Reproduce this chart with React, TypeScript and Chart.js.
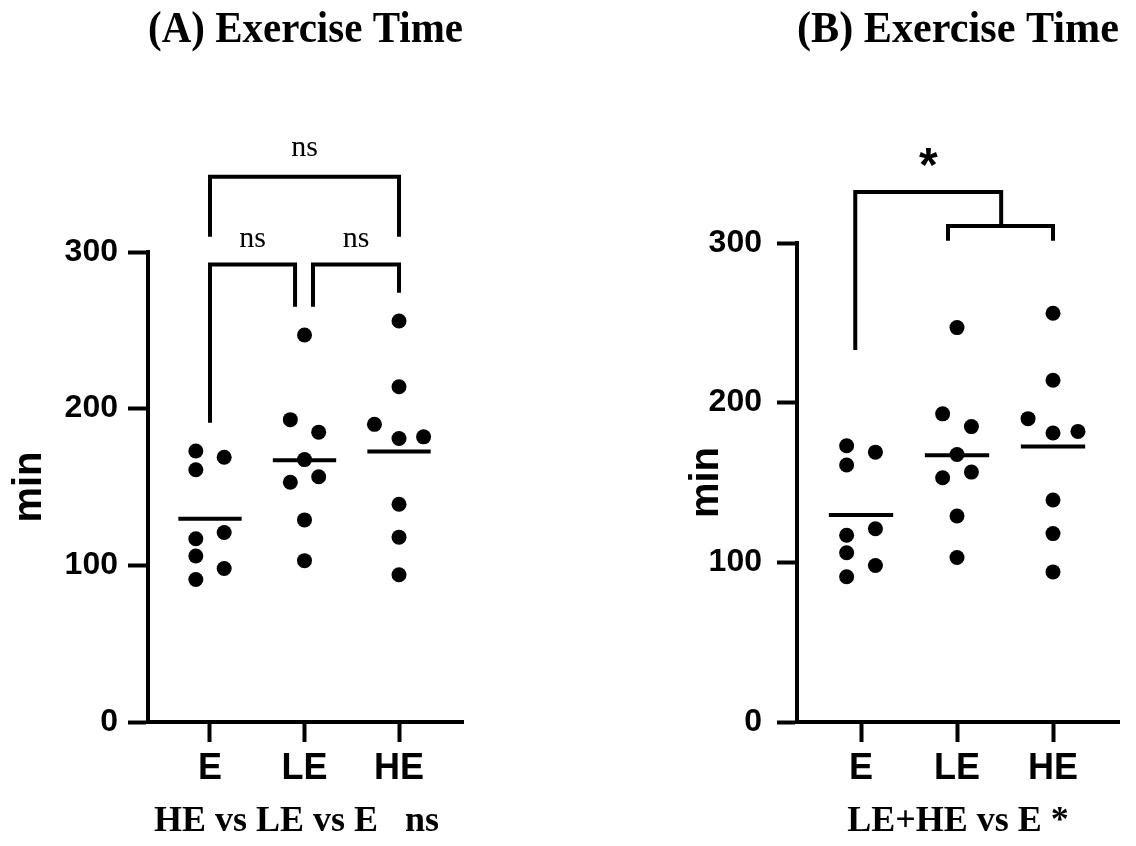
import React, { useEffect, useRef } from 'react';
import { Chart, registerables } from 'chart.js';

Chart.register(...registerables);

// ---- data ----
const groups = ['E', 'LE', 'HE'];
const eValues = [173, 169, 161, 121, 117, 106, 98, 91];
const eJitter = [-0.15, 0.15, -0.15, 0.15, -0.15, -0.15, 0.15, -0.15];
const leValues = [247, 193, 185, 167.5, 156.5, 153, 129, 103];
const leJitter = [0, -0.15, 0.15, 0, 0.15, -0.15, 0, 0];
const heValues = [256, 214, 190, 181, 182, 139, 118, 94];
const heJitter = [0, 0, -0.26, 0, 0.26, 0, 0, 0];
const groupMeans = [129.7, 167.1, 172.6];
const meanHalfWidth = 0.335;
const yTicks = [0, 100, 200, 300];

// significance brackets (x in group units, y in minutes)
const bracketsA = [
  { x: [1, 1, 3, 3], y: [309.7, 348, 348, 309.7] },
  { x: [1, 1, 1.9, 1.9], y: [191, 292, 292, 265] },
  { x: [2.09, 2.09, 3, 3], y: [265, 292, 292, 274] },
];
const labelsA = [
  { x: 2, y: 366, text: 'ns' },
  { x: 1.45, y: 308.5, text: 'ns' },
  { x: 2.545, y: 308.5, text: 'ns' },
];
const bracketsB = [
  { x: [0.94, 0.94, 2.46, 2.46], y: [233, 331.9, 331.9, 310.6] },
  { x: [1.906, 1.906, 3, 3], y: [301.4, 310.6, 310.6, 301.4] },
];
const labelsB = [{ x: 1.7, y: 347, text: '*' }];

const SANS = "'Liberation Sans', Arial, Helvetica, sans-serif";
const NARROW = "'Liberation Sans Narrow', 'Arial Narrow', 'Liberation Sans', Arial, sans-serif";
const SERIF = "'Liberation Serif', 'Times New Roman', Times, serif";

const textMarks = {
  id: 'textMarks',
  afterDatasetsDraw(chart: any, _args: any, opts: any) {
    const { ctx, scales } = chart;
    const items = (opts && opts.items) || [];
    ctx.save();
    ctx.fillStyle = '#000';
    ctx.textAlign = 'center';
    ctx.textBaseline = 'middle';
    ctx.font = opts.font;
    for (const it of items) {
      ctx.fillText(it.text, scales.x.getPixelForValue(it.x), scales.y.getPixelForValue(it.y));
    }
    ctx.restore();
  },
};

type PanelProps = {
  left: number;
  width: number;
  title: string;
  xTitle: string;
  yAxisWidth: number;
  yTickPad: number;
  yTitlePad: number;
  padRight: number;
  titleBottomPad: number;
  xMin: number;
  xMax: number;
  brackets: { x: number[]; y: number[] }[];
  labels: { x: number; y: number; text: string }[];
  labelFont: string;
};

function buildDatasets(brackets: { x: number[]; y: number[] }[]) {
  const series = [eValues, leValues, heValues];
  const jitters = [eJitter, leJitter, heJitter];
  const ds: any[] = [];
  series.forEach((vals, g) => {
    ds.push({
      label: groups[g],
      data: vals.map((v, i) => ({ x: g + 1 + jitters[g][i], y: v })),
      pointRadius: 7.5,
      pointHoverRadius: 7.5,
      backgroundColor: '#000',
      borderWidth: 0,
      showLine: false,
    });
  });
  groupMeans.forEach((m, g) => {
    ds.push({
      label: 'mean ' + groups[g],
      data: [
        { x: g + 1 - meanHalfWidth, y: m },
        { x: g + 1 + meanHalfWidth, y: m },
      ],
      showLine: true,
      borderColor: '#000',
      borderWidth: 4,
      pointRadius: 0,
      borderCapStyle: 'butt',
    });
  });
  brackets.forEach((b, k) => {
    ds.push({
      label: 'bracket ' + k,
      data: b.x.map((x, i) => ({ x, y: b.y[i] })),
      showLine: true,
      borderColor: '#000',
      borderWidth: 4,
      pointRadius: 0,
      borderJoinStyle: 'miter',
      borderCapStyle: 'butt',
      clip: false,
      tension: 0,
    });
  });
  return ds;
}

function Panel(p: PanelProps) {
  const ref = useRef<HTMLCanvasElement | null>(null);
  useEffect(() => {
    if (!ref.current) return;
    const chart = new Chart(ref.current, {
      type: 'scatter',
      data: { datasets: buildDatasets(p.brackets) },
      options: {
        responsive: false,
        animation: false,
        events: [],
        layout: { padding: { left: 0, right: p.padRight, top: 0, bottom: 0 } },
        plugins: {
          legend: { display: false },
          tooltip: { enabled: false },
          title: {
            display: true,
            text: p.title,
            fullSize: false,
            position: 'top',
            align: 'center',
            color: '#000',
            font: { family: SERIF, size: 44, weight: 'bold', lineHeight: 1.2 },
            padding: { top: 4, bottom: p.titleBottomPad },
          },
          textMarks: { items: p.labels, font: p.labelFont },
        } as any,
        scales: {
          x: {
            type: 'linear',
            min: p.xMin,
            max: p.xMax,
            afterBuildTicks: (s: any) => {
              s.ticks = groups.map((_, i) => ({ value: i + 1 }));
            },
            afterFit: (s: any) => {
              s.height = 124;
            },
            ticks: {
              callback: (_v: any, i: number) => groups[i],
              color: '#000',
              font: { family: NARROW, size: 36, weight: 'bold', lineHeight: 1.2 },
              padding: 5,
              autoSkip: false,
              maxRotation: 0,
            },
            grid: {
              drawOnChartArea: false,
              drawTicks: true,
              tickLength: 20,
              tickWidth: 4,
              tickColor: '#000',
            },
            border: { display: true, color: '#000', width: 4 },
            title: {
              display: true,
              text: p.xTitle,
              color: '#000',
              font: { family: SERIF, size: 36, weight: 'bold', lineHeight: 1.2 },
              padding: { top: 0, bottom: 3 },
            },
          },
          y: {
            type: 'linear',
            min: 0,
            max: 300,
            afterBuildTicks: (s: any) => {
              s.ticks = yTicks.map((v) => ({ value: v }));
            },
            afterFit: (s: any) => {
              s.width = p.yAxisWidth;
            },
            ticks: {
              color: '#000',
              font: { family: SANS, size: 32, weight: 'bold' },
              padding: p.yTickPad,
            },
            grid: {
              drawOnChartArea: false,
              drawTicks: true,
              tickLength: 20,
              tickWidth: 4,
              tickColor: '#000',
            },
            border: { display: true, color: '#000', width: 4 },
            title: {
              display: true,
              text: 'min',
              color: '#000',
              font: { family: SANS, size: 40, weight: 'bold', lineHeight: 1.2 },
              padding: { top: p.yTitlePad, bottom: 0 },
            },
          },
        },
      } as any,
      plugins: [textMarks as any],
    });
    return () => chart.destroy();
  }, []);
  return (
    <canvas
      ref={ref}
      width={p.width}
      height={846}
      style={{ position: 'absolute', left: p.left, top: 0, display: 'block' }}
    />
  );
}

export default function App() {
  return (
    <div style={{ position: 'absolute', left: 0, top: 0, width: 1136, height: 846, background: '#fff' }}>
      <Panel
        left={0}
        width={680}
        title="(A) Exercise Time"
        xTitle="HE vs LE vs E   ns  "
        yAxisWidth={148}
        yTickPad={10}
        yTitlePad={6}
        padRight={217}
        titleBottomPad={195.2}
        xMin={0.344}
        xMax={3.677}
        brackets={bracketsA}
        labels={labelsA}
        labelFont={"30px 'Liberation Serif', 'Times New Roman', serif"}
      />
      <Panel
        left={680}
        width={456}
        title="(B) Exercise Time"
        xTitle="LE+HE vs E *"
        yAxisWidth={117}
        yTickPad={15}
        yTitlePad={3}
        padRight={17}
        titleBottomPad={186.2}
        xMin={0.333}
        xMax={3.6875}
        brackets={bracketsB}
        labels={labelsB}
        labelFont={"bold 48px 'Liberation Sans', Arial, sans-serif"}
      />
    </div>
  );
}
